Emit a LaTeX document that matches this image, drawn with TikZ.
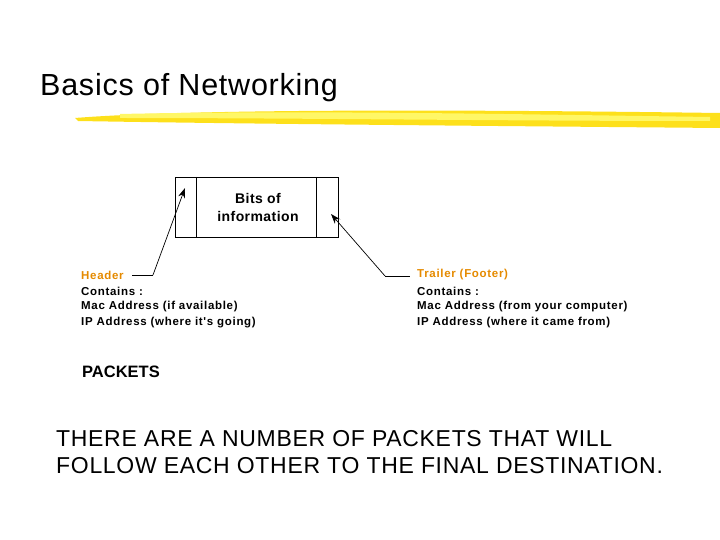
\documentclass[tikz,border=0pt]{standalone}
\usepackage{fontspec}
\usetikzlibrary{arrows.meta}
\setmainfont{Liberation Sans}
\newfontfamily\spaced[LetterSpace=6]{Liberation Sans}
\newfontfamily\spacedb[LetterSpace=3]{Liberation Sans}
\newfontfamily\spacedc[LetterSpace=2.5]{Liberation Sans}
\begin{document}
\begin{tikzpicture}[x=1pt,y=-1pt,
  small/.style={anchor=west,inner sep=0pt,font=\spaced\fontsize{11.5}{15}\selectfont\bfseries},
  lbl/.style={anchor=west,inner sep=0pt,font=\spaced\fontsize{11.5}{15}\selectfont\bfseries,text=orange!80!yellow!90!black},
  con/.style={draw=black,line width=0.7pt},
  tip/.style={-{Stealth[length=10pt,width=7pt]}}]
\useasboundingbox (0,0) rectangle (720,540);
\node[anchor=west,inner sep=0pt,font=\spacedc\fontsize{30.5}{32}\selectfont] (title) at (40,88) {Basics of Networking};
\fill[yellow!80!orange!90!white] (75,118) .. controls (200,108) and (500,110) .. (720,113) -- (720,128) .. controls (500,126) and (250,124) .. (78,121) -- cycle;
\fill[yellow!60!white] (120,114) .. controls (300,110) and (500,114) .. (710,117) -- (710,121) .. controls (500,121) and (300,118) .. (120,118) -- cycle;
\draw[line width=0.9pt] (175,177) rectangle (338,237);
\draw[line width=0.9pt] (196,177) -- (196,237) (316,177) -- (316,237);
\node[align=center,font=\spacedb\fontsize{14}{18}\selectfont\bfseries] (bits) at (258,207) {Bits of\\information};
\coordinate (htip) at (185,188);
\coordinate (ttip) at (331,214);
\node[lbl] (hdr) at (81,275) {Header};
\coordinate (hend) at (153,275);
\draw[con] (132,275) -- (hend);
\draw[con,tip] (hend) -- (htip);
\node[small] (h1) at (81,291) {Contains :};
\node[small] (h2) at (81,307) {Mac Address (if available)};
\node[small] (h3) at (81,323) {IP Address (where it's going)};
\node[lbl] (trl) at (417,275) {Trailer (Footer)};
\coordinate (tend) at (385,276);
\draw[con] (tend) -- (410,276);
\draw[con,tip] (tend) -- (ttip);
\node[small] (t1) at (417,291) {Contains :};
\node[small] (t2) at (417,307) {Mac Address (from your computer)};
\node[small] (t3) at (417,323) {IP Address (where it came from)};
\node[anchor=west,inner sep=0pt,font=\fontsize{16.5}{18}\selectfont\bfseries] (pk) at (82,372) {PACKETS};
\node[anchor=north west,inner sep=0pt,align=left,font=\spacedb\fontsize{23}{27}\selectfont] (bot) at (56,430) {THERE ARE A NUMBER OF PACKETS THAT WILL\\FOLLOW EACH OTHER TO THE FINAL DESTINATION.};
\end{tikzpicture}
\end{document}
